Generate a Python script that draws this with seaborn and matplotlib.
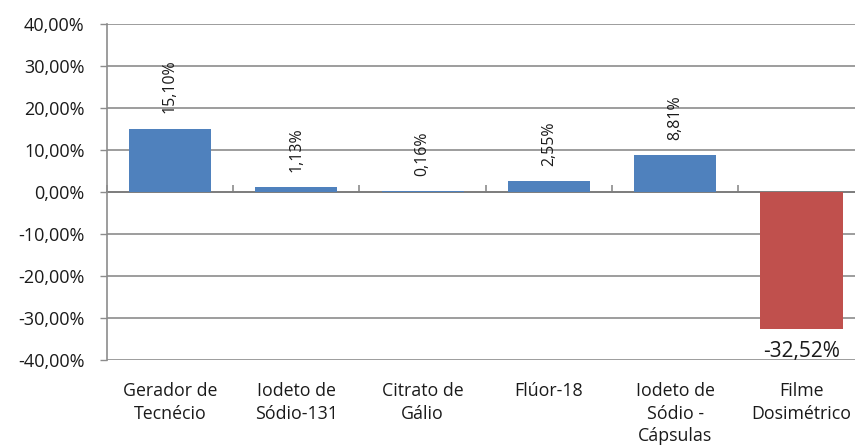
import matplotlib
matplotlib.use("Agg")
import matplotlib.pyplot as plt
import seaborn as sns
import pandas as pd
import numpy as np

# --- Data ---
categories = ["Gerador de\nTecnécio", "Iodeto de\nSódio-131", "Citrato de\nGálio",
              "Flúor-18", "Iodeto de\nSódio -\nCápsulas", "Filme\nDosimétrico"]
values = [15.10, 1.13, 0.16, 2.55, 8.81, -32.52]
bar_colors = ["#4F81BD", "#4F81BD", "#4F81BD", "#4F81BD", "#4F81BD", "#C0504D"]
y_ticks = [-40, -30, -20, -10, 0, 10, 20, 30, 40]

GRID = "#8C8C8C"
FONT = ["Open Sans", "DejaVu Sans"]


def fmt_pct(v):
    return f"{v:.2f}%".replace(".", ",")


def main():
    df = pd.DataFrame({"Categoria": categories, "Valor": values})

    sns.set_theme(style="white")
    plt.rcParams["font.family"] = FONT

    fig = plt.figure(figsize=(8.55, 4.47), dpi=100)
    ax = fig.add_axes([106.85 / 855, 1 - 360 / 447, 757.8 / 855, 336 / 447])

    sns.barplot(data=df, x="Categoria", y="Valor", hue="Categoria",
                palette=bar_colors, width=0.65, legend=False, ax=ax,
                saturation=1, edgecolor="none")

    ax.set_ylim(-40, 40)
    ax.set_xlim(-0.5, len(categories) - 0.5)
    ax.set_yticks(y_ticks)
    ax.set_yticklabels([fmt_pct(t) for t in y_ticks], fontsize=13, color="#1a1a1a")
    ax.tick_params(axis="y", direction="out", length=5, width=1, color=GRID, pad=11, left=True)
    ax.set_xlabel("")
    ax.set_ylabel("")
    ax.set_xticks(range(len(categories)))
    ax.set_xticklabels(categories, fontsize=12.8, color="#1a1a1a", linespacing=1.33)
    ax.tick_params(axis="x", length=0, pad=16)

    ax.yaxis.grid(True, color=GRID, linewidth=1.2)
    ax.set_axisbelow(True)
    for s in ["top", "right", "bottom"]:
        ax.spines[s].set_visible(False)
    ax.spines["left"].set_color(GRID)
    ax.spines["left"].set_linewidth(1.2)

    # category axis at zero with tick marks between groups
    sec = ax.secondary_xaxis(0.5)
    sec.set_xticks(np.arange(len(categories)) - 0.5)
    sec.set_xticklabels([])
    sec.tick_params(axis="x", direction="out", length=5, width=1.2, color=GRID)
    sec.spines["bottom"].set_color(GRID)
    sec.spines["bottom"].set_linewidth(1.2)

    # value labels
    for i, v in enumerate(values):
        if v >= 0:
            ax.annotate(fmt_pct(v), (i, v), xytext=(0, 11), textcoords="offset points",
                        rotation=90, ha="center", va="bottom", fontsize=11.4, color="#1a1a1a")
        else:
            ax.annotate(fmt_pct(v), (i, v), xytext=(0, -9), textcoords="offset points",
                        ha="center", va="top", fontsize=15, color="#1a1a1a")

    fig.savefig("out.png", dpi=100)
    plt.close(fig)


if __name__ == "__main__":
    main()
